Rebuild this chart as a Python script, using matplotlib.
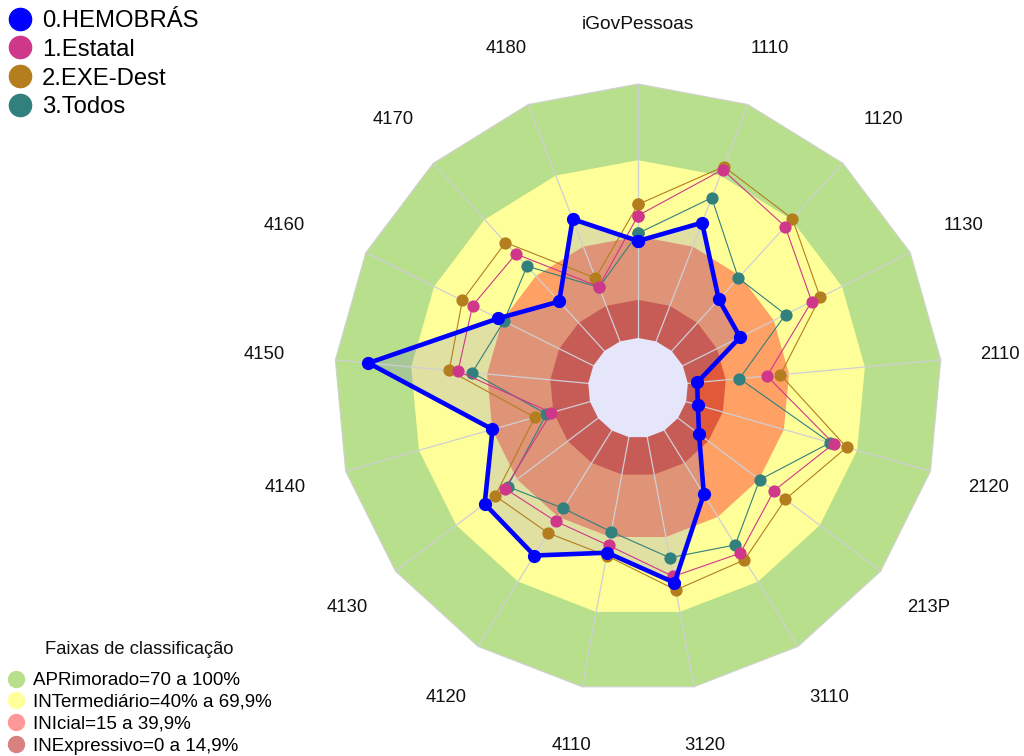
import numpy as np
import matplotlib
matplotlib.use('Agg')
import matplotlib.pyplot as plt
from matplotlib.lines import Line2D
from matplotlib.transforms import offset_copy

plt.rcParams['font.family'] = ['Liberation Sans', 'DejaVu Sans']

# ---------------- data ----------------
categories = ['iGovPessoas', '1110', '1120', '1130', '2110', '2120', '213P', '3110',
              '3120', '4110', '4120', '4130', '4140', '4150', '4160', '4170', '4180']
hemobras = [38.2, 50.1, 27.5, 25.2, 3.7, 4.8, 10.4, 29.5, 58.3, 46.3, 57.9, 56.0,
            39.9, 86.9, 41.8, 26.4, 51.6]
estatal = [48.2, 72.5, 66.3, 56.7, 31.3, 60.4, 47.4, 56.8, 55.8, 43.4, 42.0, 46.0,
           15.8, 51.5, 53.1, 51.7, 23.1]
exe_dest = [52.6, 73.8, 70.5, 60.4, 36.6, 65.7, 53.0, 59.9, 61.2, 47.5, 47.5, 50.8,
            22.6, 55.0, 57.6, 57.8, 26.7]
todos = [41.2, 60.6, 38.9, 45.2, 20.4, 59.0, 40.3, 53.0, 48.3, 37.9, 36.1, 44.7,
         17.8, 45.9, 39.3, 45.2, 22.8]

series_names = ['0.HEMOBRÁS', '1.Estatal', '2.EXE-Dest', '3.Todos']
series_colors = ['#0000FF', '#CF388A', '#B47D1E', '#32807D']

band_limits = [100, 70, 40, 15]
band_colors = ['#B8E08C', '#FFFF99', '#FFA064', '#E05A3A']
band_legend_colors = ['#B8E08C', '#FFFF99', '#FF9999', '#D98080']
band_labels = ['APRimorado=70 a 100%', 'INTermediário=40% a 69,9%',
               'INIcial=15 a 39,9%', 'INExpressivo=0 a 14,9%']
legend_title = 'Faixas de classificação'

# horizontal label nudges in pixels (layout only)
label_dx = {'4150': -11, '4160': -28, '4140': -3}

# ---------------- figure ----------------
fig = plt.figure(figsize=(10.24, 7.56), dpi=100)
ax = fig.add_axes([0.3262, 0.0847, 0.5938, 0.8042], projection='polar')
ax.set_theta_offset(np.pi / 2)
ax.set_theta_direction(-1)
ax.set_ylim(-19.685, 100)
ax.set_axis_off()

n = len(categories)
theta = np.arange(n) * 2 * np.pi / n
tc = np.append(theta, theta[0])


def closed(v):
    v = list(v)
    return v + v[:1]


# bands (stacked regular polygons)
for i, (lim, col) in enumerate(zip(band_limits, band_colors)):
    ax.fill(tc, [lim] * (n + 1), facecolor=col,
            edgecolor='#D0D0D0' if i == 0 else 'none', lw=0.8 if i == 0 else 0,
            zorder=1 + i * 0.01, clip_on=False)

# HEMOBRAS translucent fill
ax.fill(tc, closed(hemobras), facecolor=(100 / 255, 100 / 255, 200 / 255), alpha=0.2,
        lw=0, zorder=2)

# spokes
for t in theta:
    ax.plot([t, t], [0, 100], color='#CFCFD6', lw=0.9, zorder=3, clip_on=False)

# centre hole
ax.fill(tc, [0] * (n + 1), facecolor='#E6E6FA', edgecolor='none', zorder=3.5,
        clip_on=False)

# series
data = [hemobras, estatal, exe_dest, todos]
order = [3, 2, 1, 0]
for k in order:
    if k == 0:
        ax.plot(tc, closed(data[k]), color=series_colors[k], lw=3.3, marker='o',
                ms=8.5, zorder=10)
    else:
        ax.plot(tc, closed(data[k]), color=series_colors[k], lw=0.8, marker='o',
                ms=7.8, zorder=5 + (3 - k))

# category labels
for t, name in zip(theta, categories):
    fs = 13.8 if name == 'iGovPessoas' else 13.3
    tr = offset_copy(ax.transData, fig=fig, x=label_dx.get(name, 0), y=0, units='dots')
    ax.text(t, 123.6, name, ha='center', va='center', fontsize=fs, color='#111111',
            transform=tr)

# series legend
handles = [Line2D([], [], ls='', marker='o', ms=16, color=c) for c in series_colors]
fig.legend(handles, series_names, loc='upper left', bbox_to_anchor=(8 / 1024, 1 - 10 / 756),
           frameon=False, fontsize=17.2, handletextpad=0.42, labelspacing=0.285,
           borderpad=0, borderaxespad=0, handlelength=1.0)

# band legend
fig.text(139 / 1024, 1 - 650 / 756, legend_title, ha='center', va='center', fontsize=13.2,
         color='#111111')
bh = [Line2D([], [], ls='', marker='o', ms=11.5, color=c) for c in band_legend_colors]
fig.legend(bh, band_labels, loc='upper left',
           bbox_to_anchor=(6.6 / 1024, 1 - 672 / 756), frameon=False, fontsize=13.5,
           handletextpad=0.41, labelspacing=0.25,
           borderpad=0, borderaxespad=0, handlelength=1.0)

fig.savefig('out.png', dpi=100)
